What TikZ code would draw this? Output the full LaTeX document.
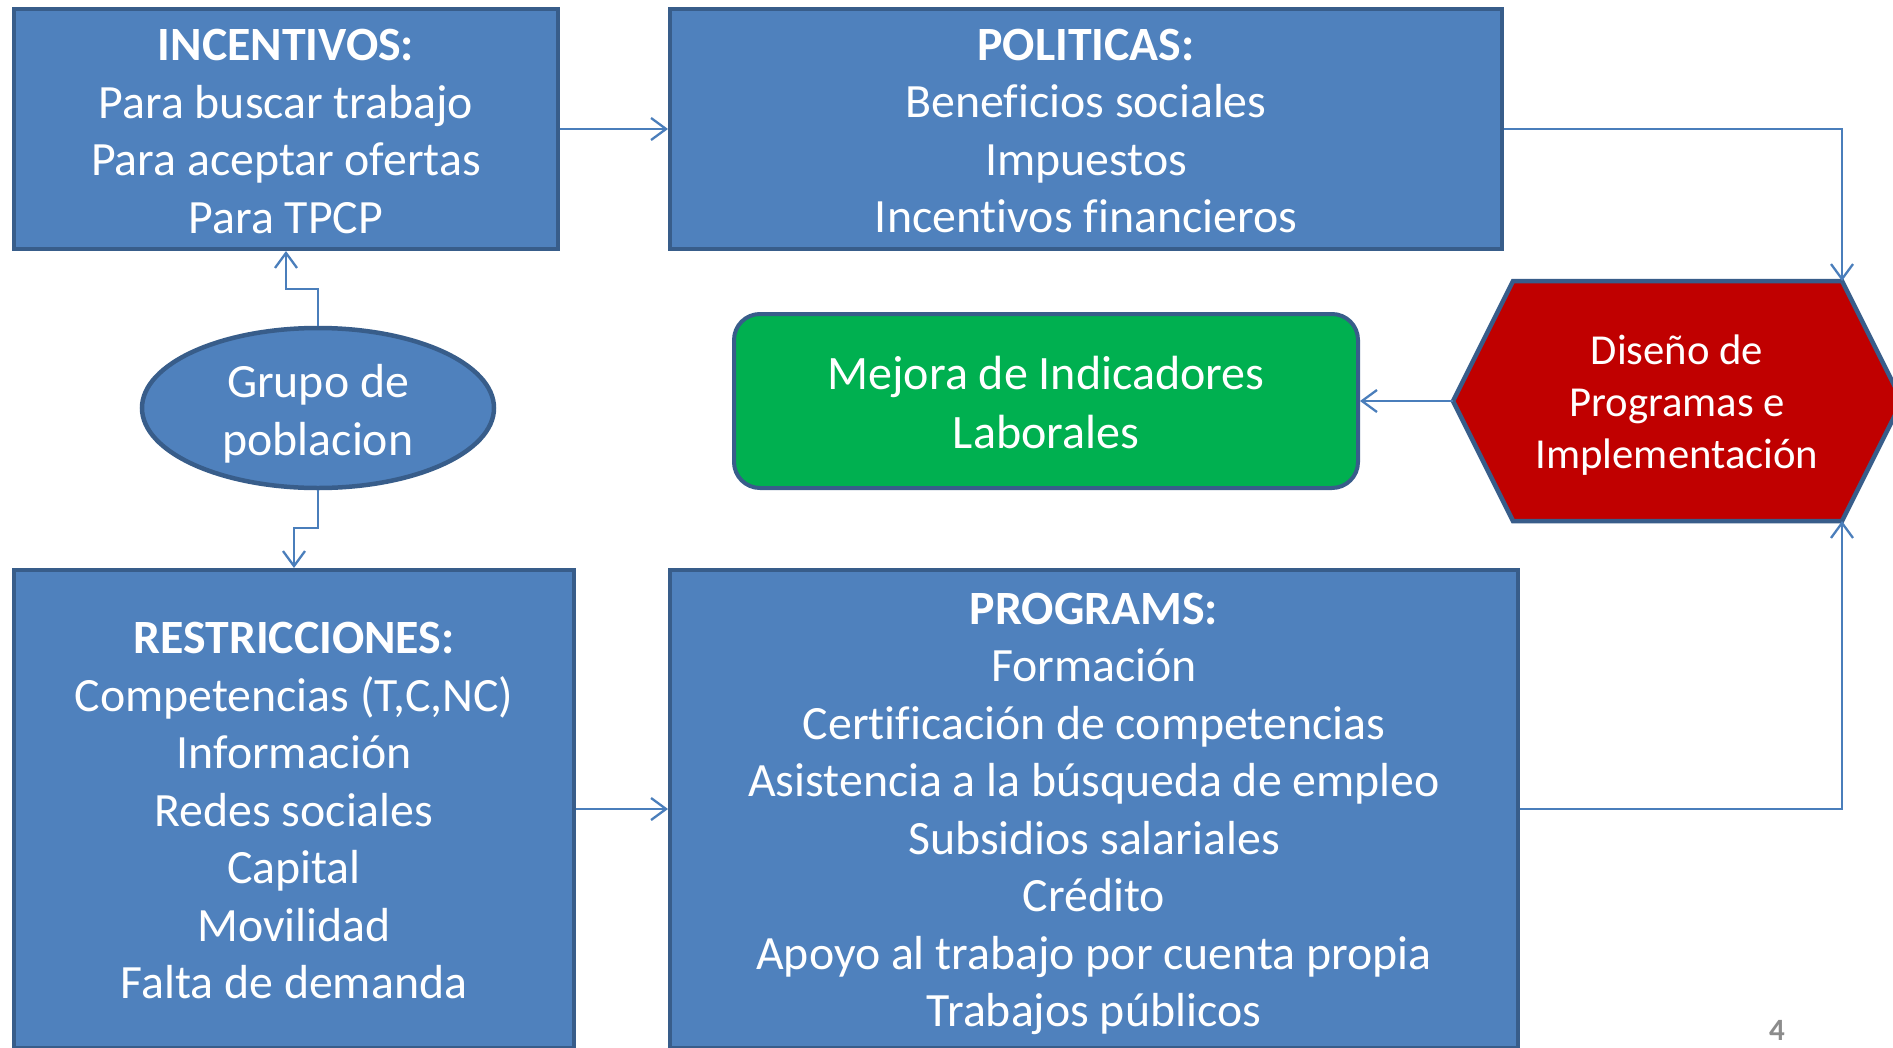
\documentclass[tikz,border=0pt]{standalone}
\usepackage{fontspec}
\setmainfont{Carlito}[Ligatures=NoCommon]
\usetikzlibrary{arrows.meta,shapes.geometric}
\definecolor{boxblue}{HTML}{4F81BD}
\definecolor{boxedge}{HTML}{385D8A}
\definecolor{linkblue}{HTML}{4A7EBB}
\definecolor{hexred}{HTML}{C00000}
\definecolor{boxgreen}{HTML}{00B050}
\definecolor{pagegray}{HTML}{8C8C8C}
\begin{document}
\begin{tikzpicture}[x=1pt,y=-1pt,
  box/.style={draw=boxedge, line width=4pt, fill=boxblue, inner sep=0pt},
  txt/.style={text=white, align=center, inner sep=0pt, font=\fontsize{47.8}{57.5}\selectfont},
  link/.style={draw=linkblue, line width=2.3pt,
    -{Straight Barb[length=15pt,width=22pt]}}
]
\useasboundingbox (0,0) rectangle (1893,1047);
\clip (0,0) rectangle (1893,1047);
\fill[white] (0,0) rectangle (1893,1047);

% blue boxes
\node[box, minimum width=544pt, minimum height=240pt] (inc) at (286,129) {};
\node[txt] (inctxt) at ([yshift=-2.5pt]inc.center)
  {\textbf{INCENTIVOS:}\\Para buscar trabajo\\Para aceptar ofertas\\Para TPCP};
\node[box, minimum width=832pt, minimum height=240pt] (pol) at (1086,129) {};
\node[txt] (poltxt) at ([yshift=-2pt]pol.center)
  {\textbf{POLITICAS:}\\Beneficios sociales\\Impuestos\\Incentivos financieros};
\node[box, minimum width=560pt, minimum height=478pt] (res) at (294,809) {};
\node[txt] (restxt) at ([yshift=-1.5pt]res.center)
  {\textbf{RESTRICCIONES:}\\Competencias (T,C,NC)\\Información\\Redes sociales\\Capital\\Movilidad\\Falta de demanda};
\node[box, minimum width=848pt, minimum height=478pt] (prog) at (1094,809) {};
\node[txt] (progtxt) at ([yshift=-5pt]prog.center)
  {\textbf{PROGRAMS:}\\Formación\\Certificación de competencias\\Asistencia a la búsqueda de empleo\\Subsidios salariales\\Crédito\\Apoyo al trabajo por cuenta propia\\Trabajos públicos};

% ellipse
\node[box, ellipse, line width=4.5pt, minimum width=352pt, minimum height=160pt] (ell) at (318,408) {};
\node[txt] (elltxt) at ([yshift=-5.5pt]ell.center) {Grupo de\\poblacion};

% green rounded box
\node[box, fill=boxgreen, rounded corners=26pt, minimum width=624pt, minimum height=174pt] (green) at (1046,401) {};
\node[txt, font=\fontsize{48}{59}\selectfont] (greentxt) at ([yshift=-1.5pt]green.center)
  {Mejora de Indicadores\\Laborales};

% hexagon
\coordinate (hexL) at (1453,401);
\coordinate (hexTL) at (1513,281);
\coordinate (hexTR) at (1842,281);
\coordinate (hexR) at (1902,401);
\coordinate (hexBR) at (1842,521);
\coordinate (hexBL) at (1513,521);
\draw[draw=boxedge, line width=4.5pt, fill=hexred, line join=miter]
  (hexL) -- (hexTL) -- (hexTR) -- (hexR) -- (hexBR) -- (hexBL) -- cycle;
\node[txt, font=\fontsize{42.7}{52}\selectfont] (hex) at (1677,405.5)
  {Diseño de\\Programas e\\Implementación};

% connectors
\draw[link] (inc.east) -- (pol.west);
\draw[link] (pol.east) -| (hexTR);
\draw[link] (hexL) -- (green.east);
\draw[link] (ell.north) -- (ell.north |- 0,289) -| (inc.south);
\draw[link] (ell.south) -- (ell.south |- 0,528) -| (res.north);
\draw[link] (res.east) -- (prog.west);
\draw[link] (prog.east) -| (hexBR);

% page number
\node[text=pagegray, font=\fontsize{31}{34}\selectfont\bfseries, inner sep=0pt] (pnum) at (1777,1030) {4};
\end{tikzpicture}
\end{document}
